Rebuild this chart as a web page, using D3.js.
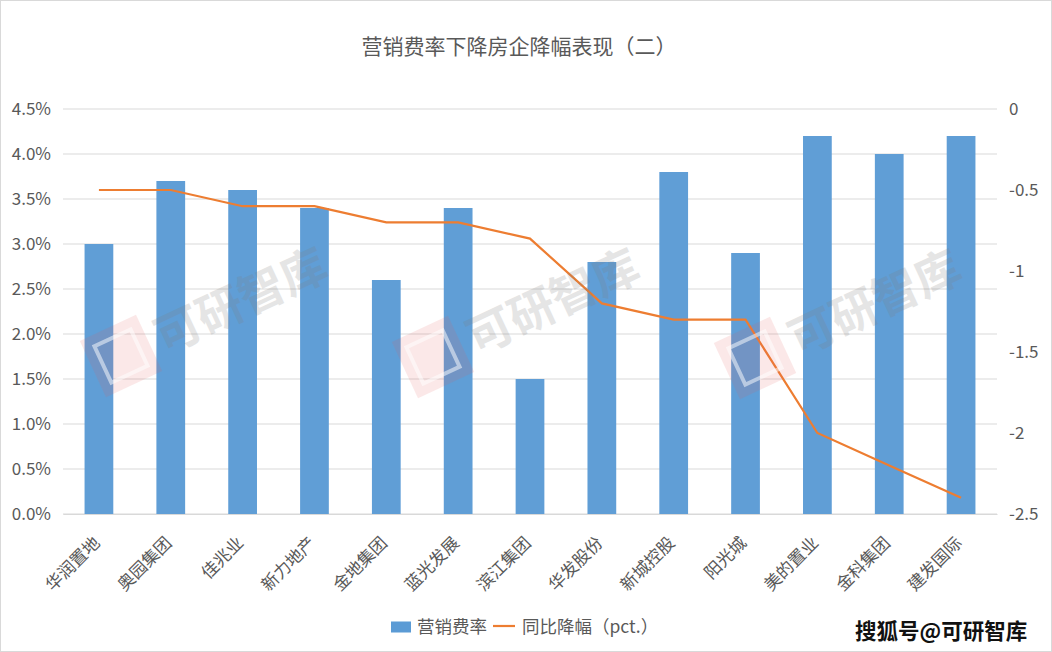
<!DOCTYPE html>
<html>
<head>
<meta charset="utf-8">
<script src="https://cdn.jsdelivr.net/npm/d3@7"></script>
<style>
body { margin: 0; background: #fff; }
text { font-family: "Noto Sans CJK SC", "Noto Sans", sans-serif; }
</style>
</head>
<body>
<div id="chart"></div>
<script>
const companies = ["华润置地", "奥园集团", "佳兆业", "新力地产", "金地集团", "蓝光发展", "滨江集团", "华发股份", "新城控股", "阳光城", "美的置业", "金科集团", "建发国际"];
const salesRate = [3.0, 3.7, 3.6, 3.4, 2.6, 3.4, 1.5, 2.8, 3.8, 2.9, 4.2, 4.0, 4.2];
const yoyDrop = [-0.5, -0.5, -0.6, -0.6, -0.7, -0.7, -0.8, -1.2, -1.3, -1.3, -2.0, -2.2, -2.4];
const leftTicks = [0, 0.5, 1.0, 1.5, 2.0, 2.5, 3.0, 3.5, 4.0, 4.5];
const rightTicks = [0, -0.5, -1, -1.5, -2, -2.5];

const W = 1052, H = 652;
let margin = { top: 109, left: 63, right: 55, bottom: 138 },
    width = W - margin.left - margin.right,
    height = H - margin.top - margin.bottom;

const svg = d3.select("#chart").append("svg")
    .attr("width", W).attr("height", H);

// frame
svg.append("rect")
    .attr("x", 0.5).attr("y", 0.5)
    .attr("width", W - 1).attr("height", H - 1)
    .attr("fill", "#fff").attr("stroke", "#d9d9d9");

// title
svg.append("text")
    .attr("x", 519).attr("y", 54)
    .attr("text-anchor", "middle")
    .attr("fill", "#595959")
    .style("font-size", "21px")
    .text("营销费率下降房企降幅表现（二）");

const g = svg.append("g").attr("transform", "translate(" + margin.left + "," + margin.top + ")");

let x = d3.scaleBand().domain(companies).range([0, width]).paddingInner(0.6).paddingOuter(0.3);
let yL = d3.scaleLinear().domain([0, 4.5]).range([height, 0]);
let yR = d3.scaleLinear().domain([-2.5, 0]).range([height, 0]);

// gridlines
g.append("g").selectAll("line")
    .data(leftTicks)
    .enter().append("line")
    .attr("x1", 0).attr("x2", width)
    .attr("y1", d => yL(d)).attr("y2", d => yL(d))
    .attr("stroke", "#d9d9d9").attr("stroke-width", 1);

// watermarks (logo + text)
const wm = [[121, 356], [433, 357], [755, 358]];
let marks = svg.append("g").selectAll("g")
    .data(wm)
    .enter().append("g")
    .attr("transform", d => "translate(" + d[0] + "," + d[1] + ") rotate(-25)");
marks.append("rect")
    .attr("x", -31).attr("y", -31).attr("width", 62).attr("height", 62)
    .attr("fill", "#e05a5a").attr("opacity", 0.14);
marks.append("rect")
    .attr("x", -20).attr("y", -20).attr("width", 40).attr("height", 40)
    .attr("fill", "none").attr("stroke", "#fff").attr("stroke-width", 4).attr("opacity", 0.5);
marks.append("text")
    .attr("x", 40).attr("y", 17)
    .attr("fill", "#7f7f7f").attr("opacity", 0.2)
    .style("font-size", "46px").style("font-weight", "bold")
    .text("可研智库");

// bars
g.append("g").selectAll("rect")
    .data(companies)
    .enter().append("rect")
    .attr("x", d => x(d))
    .attr("y", (d, i) => yL(salesRate[i]))
    .attr("width", x.bandwidth())
    .attr("height", (d, i) => height - yL(salesRate[i]))
    .attr("fill", "#5b9bd5")
    .attr("fill-opacity", 0.97);

// line
let line = d3.line()
    .x((d, i) => x(companies[i]) + x.bandwidth() / 2)
    .y(d => yR(d));
g.append("path")
    .datum(yoyDrop)
    .attr("d", line)
    .attr("fill", "none")
    .attr("stroke", "#ed7d31")
    .attr("stroke-width", 2.2);

// left axis
let leftAxis = g.append("g")
    .call(d3.axisLeft(yL).tickValues(leftTicks).tickFormat(d => d.toFixed(1) + "%").tickSize(0).tickPadding(12));
leftAxis.select(".domain").remove();
leftAxis.selectAll("text").attr("fill", "#595959").style("font-size", "17px");

// right axis
let rightAxis = g.append("g")
    .attr("transform", "translate(" + width + ",0)")
    .call(d3.axisRight(yR).tickValues(rightTicks).tickFormat(d => d).tickSize(0).tickPadding(12));
rightAxis.select(".domain").remove();
rightAxis.selectAll("text").attr("fill", "#595959").style("font-size", "17px");

// x axis
let xAxis = g.append("g")
    .attr("transform", "translate(0," + height + ")")
    .call(d3.axisBottom(x).tickSize(0).tickPadding(0));
xAxis.select(".domain").attr("stroke", "#d9d9d9");
xAxis.selectAll("text")
    .attr("fill", "#595959")
    .style("font-size", "17px")
    .style("text-anchor", "end")
    .attr("x", 0).attr("y", 0)
    .attr("dy", "0.75em")
    .attr("transform", "translate(-7,21) rotate(-45)");

// legend
const legend = svg.append("g").attr("transform", "translate(391,627)");
legend.append("rect")
    .attr("x", 0).attr("y", -5.5).attr("width", 20).attr("height", 11)
    .attr("fill", "#5b9bd5");
legend.append("text")
    .attr("x", 26).attr("y", 0).attr("dy", "0.35em")
    .attr("fill", "#595959").style("font-size", "17.5px")
    .text("营销费率");
legend.append("line")
    .attr("x1", 102).attr("x2", 124).attr("y1", -1).attr("y2", -1)
    .attr("stroke", "#ed7d31").attr("stroke-width", 2.2);
legend.append("text")
    .attr("x", 131).attr("y", 0).attr("dy", "0.35em")
    .attr("fill", "#595959").style("font-size", "17.5px")
    .text("同比降幅（pct.）");

// source tag
svg.append("text")
    .attr("x", 855).attr("y", 639)
    .attr("fill", "#111")
    .attr("stroke", "#fff").attr("stroke-width", 3).attr("paint-order", "stroke")
    .style("font-size", "21.5px").style("font-weight", "bold")
    .text("搜狐号@可研智库");
</script>
</body>
</html>
